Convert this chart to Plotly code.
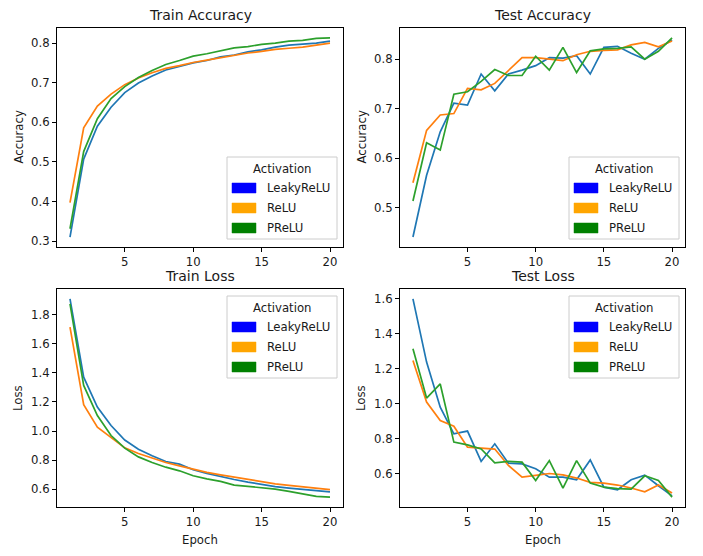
import plotly.graph_objects as go

# ---------------- data ----------------
epochs = list(range(1, 21))
activations = ["LeakyReLU", "ReLU", "PReLU"]

train_acc_leaky = [0.310, 0.507, 0.590, 0.638, 0.675, 0.699, 0.717, 0.732, 0.741, 0.750,
                   0.756, 0.765, 0.770, 0.778, 0.783, 0.790, 0.795, 0.798, 0.800, 0.805]
train_acc_relu = [0.397, 0.586, 0.641, 0.671, 0.695, 0.712, 0.725, 0.736, 0.743, 0.751,
                  0.757, 0.763, 0.768, 0.775, 0.779, 0.784, 0.787, 0.790, 0.795, 0.800]
train_acc_prelu = [0.331, 0.526, 0.609, 0.660, 0.690, 0.713, 0.731, 0.746, 0.756, 0.767,
                   0.773, 0.780, 0.788, 0.791, 0.797, 0.800, 0.805, 0.807, 0.812, 0.813]

test_acc_leaky = [0.440, 0.565, 0.653, 0.711, 0.707, 0.770, 0.736, 0.770, 0.778, 0.787,
                  0.803, 0.802, 0.807, 0.770, 0.824, 0.826, 0.812, 0.800, 0.822, 0.839]
test_acc_relu = [0.550, 0.656, 0.687, 0.690, 0.741, 0.738, 0.751, 0.778, 0.803, 0.803,
                 0.800, 0.797, 0.809, 0.816, 0.818, 0.819, 0.829, 0.834, 0.825, 0.837]
test_acc_prelu = [0.513, 0.631, 0.616, 0.729, 0.734, 0.755, 0.779, 0.767, 0.767, 0.806,
                  0.778, 0.824, 0.773, 0.817, 0.821, 0.822, 0.825, 0.800, 0.816, 0.843]

train_loss_leaky = [1.910, 1.371, 1.165, 1.038, 0.938, 0.875, 0.830, 0.790, 0.772, 0.733,
                    0.708, 0.685, 0.666, 0.648, 0.632, 0.617, 0.607, 0.596, 0.590, 0.581]
train_loss_relu = [1.715, 1.181, 1.027, 0.955, 0.884, 0.845, 0.812, 0.783, 0.760, 0.735,
                   0.715, 0.698, 0.683, 0.666, 0.650, 0.636, 0.626, 0.618, 0.607, 0.597]
train_loss_prelu = [1.876, 1.314, 1.107, 0.969, 0.882, 0.822, 0.783, 0.751, 0.726, 0.692,
                    0.671, 0.653, 0.628, 0.618, 0.607, 0.600, 0.584, 0.568, 0.550, 0.545]

test_loss_leaky = [1.600, 1.238, 0.980, 0.827, 0.843, 0.669, 0.770, 0.659, 0.655, 0.627,
                   0.579, 0.579, 0.564, 0.678, 0.522, 0.507, 0.564, 0.591, 0.530, 0.472]
test_loss_relu = [1.247, 1.009, 0.904, 0.871, 0.751, 0.745, 0.740, 0.646, 0.579, 0.589,
                  0.600, 0.592, 0.574, 0.549, 0.545, 0.534, 0.517, 0.495, 0.534, 0.488]
test_loss_prelu = [1.314, 1.032, 1.113, 0.780, 0.764, 0.741, 0.661, 0.669, 0.665, 0.560,
                   0.674, 0.517, 0.674, 0.545, 0.522, 0.514, 0.511, 0.587, 0.560, 0.465]

panel_titles = ["Train Accuracy", "Test Accuracy", "Train Loss", "Test Loss"]
y_labels = ["Accuracy", "Accuracy", "Loss", "Loss"]
x_tick_vals = [5, 10, 15, 20]

line_colors = ["#1f77b4", "#ff7f0e", "#2ca02c"]
patch_colors = ["#0000ff", "#ffa500", "#008000"]

panels = [
    [train_acc_leaky, train_acc_relu, train_acc_prelu],
    [test_acc_leaky, test_acc_relu, test_acc_prelu],
    [train_loss_leaky, train_loss_relu, train_loss_prelu],
    [test_loss_leaky, test_loss_relu, test_loss_prelu],
]
y_dticks = [0.1, 0.1, 0.2, 0.2]

# ---------------- layout helpers (window pixels -> paper) ----------------
OFF = 8  # default page body margin
W, H = 703 - OFF, 556 - OFF
def px(x):
    return (x - OFF) / W
def py(y):
    return 1 - (y - OFF) / H

# axes boxes in window pixels: (left, right, top, bottom)
boxes = [(57, 343, 28, 247), (400, 685, 28, 247), (57, 343, 289, 507), (400, 685, 289, 507)]
legend_pos = ["br", "br", "tr", "tr"]

FONT = "DejaVu Sans"
TXT = "#1a1a1a"

fig = go.Figure()
layout = dict(
    width=W, height=H, margin=dict(l=0, r=0, t=0, b=0),
    paper_bgcolor="white", plot_bgcolor="white", showlegend=False,
    font=dict(family=FONT, size=11.7, color=TXT),
)
annotations = []
shapes = []

for i, (series, box) in enumerate(zip(panels, boxes)):
    xa = "xaxis" if i == 0 else f"xaxis{i+1}"
    ya = "yaxis" if i == 0 else f"yaxis{i+1}"
    xr = "x" if i == 0 else f"x{i+1}"
    yr = "y" if i == 0 else f"y{i+1}"
    l, r, t, b = box
    for k, vals in enumerate(series):
        fig.add_trace(go.Scatter(x=epochs, y=vals, mode="lines", name=activations[k],
                                 line=dict(color=line_colors[k], width=1.7),
                                 xaxis=xr, yaxis=yr, hoverinfo="skip"))
    allv = [v for s in series for v in s]
    lo, hi = min(allv), max(allv)
    pad = 0.05 * (hi - lo)
    xpad = 0.05 * (max(epochs) - min(epochs))
    common = dict(showline=True, mirror=True, linecolor="black", linewidth=1,
                  ticks="outside", ticklen=4, tickwidth=1, tickcolor="black",
                  showgrid=False, zeroline=False,
                  tickfont=dict(family=FONT, size=11.7, color=TXT))
    layout[xa] = dict(domain=[px(l), px(r)], range=[min(epochs) - xpad, max(epochs) + xpad],
                      tickvals=x_tick_vals, anchor=yr, **common)
    layout[ya] = dict(domain=[py(b), py(t)], range=[lo - pad, hi + pad],
                      tick0=0, dtick=y_dticks[i], tickformat=".1f", anchor=xr, **common)

    # title
    annotations.append(dict(text=panel_titles[i], x=px((l + r) / 2), y=py(t - 13),
                            xref="paper", yref="paper", showarrow=False,
                            font=dict(family=FONT, size=14, color=TXT),
                            xanchor="center", yanchor="middle"))
    # y label
    annotations.append(dict(text=y_labels[i], x=px(l - 39), y=py((t + b) / 2),
                            xref="paper", yref="paper", showarrow=False, textangle=-90,
                            font=dict(family=FONT, size=11.7, color=TXT),
                            xanchor="center", yanchor="middle"))
    # x label (bottom row only)
    if i >= 2:
        annotations.append(dict(text="Epoch", x=px((l + r) / 2), y=py(b + 33),
                                xref="paper", yref="paper", showarrow=False,
                                font=dict(family=FONT, size=11.7, color=TXT),
                                xanchor="center", yanchor="middle"))

    # legend (patch handles)
    lw, lh = 110, 82
    lx1 = r - 6
    lx0 = lx1 - lw
    if legend_pos[i] == "br":
        ly1 = b - 8
        ly0 = ly1 - lh
    else:
        ly0 = t + 7
        ly1 = ly0 + lh
    shapes.append(dict(type="rect", xref="paper", yref="paper",
                       x0=px(lx0), x1=px(lx1), y0=py(ly1), y1=py(ly0),
                       line=dict(color="#cccccc", width=1), fillcolor="rgba(255,255,255,0.85)",
                       layer="above"))
    annotations.append(dict(text="Activation", x=px((lx0 + lx1) / 2), y=py(ly0 + 11.5),
                            xref="paper", yref="paper", showarrow=False,
                            font=dict(family=FONT, size=11.7, color=TXT),
                            xanchor="center", yanchor="middle"))
    for k, name in enumerate(activations):
        cy = ly0 + 31 + 20 * k
        shapes.append(dict(type="rect", xref="paper", yref="paper",
                           x0=px(lx0 + 5), x1=px(lx0 + 29), y0=py(cy + 5), y1=py(cy - 5),
                           line=dict(color=patch_colors[k], width=0.5), fillcolor=patch_colors[k],
                           layer="above"))
        annotations.append(dict(text=name, x=px(lx0 + 38), y=py(cy),
                                xref="paper", yref="paper", showarrow=False,
                                font=dict(family=FONT, size=11.7, color=TXT),
                                xanchor="left", yanchor="middle"))

layout["annotations"] = annotations
layout["shapes"] = shapes
fig.update_layout(**layout)
fig.write_html("out.html")
